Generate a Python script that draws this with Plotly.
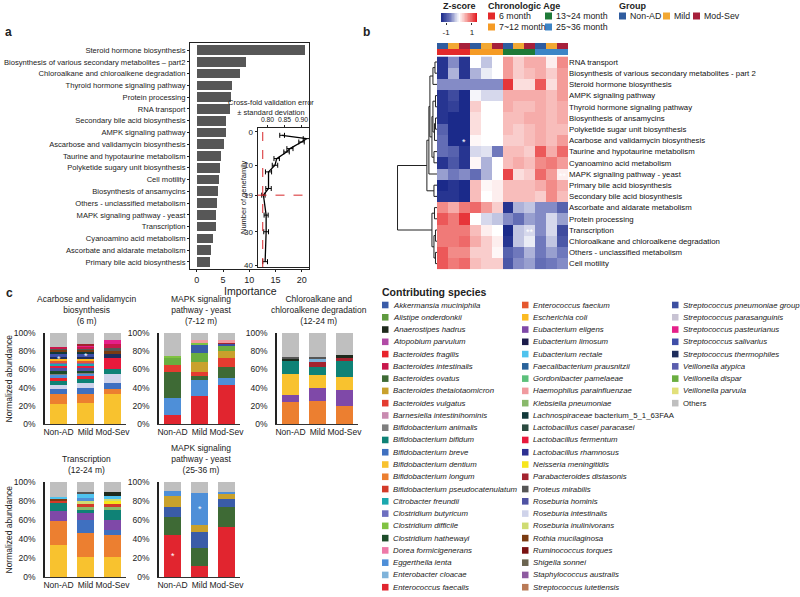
import plotly.graph_objects as go

W, H = 800, 597
FONT = "Liberation Sans, Arial, sans-serif"


def fx(px):
    return px / W


def fy(py):
    return 1 - py / H


# ---------------- Panel a : feature importance ----------------
feat_a = [
    "Steroid hormone biosynthesis",
    "Biosynthesis of various secondary metabolites \u2013 part2",
    "Chloroalkane and chloroalkene degradation",
    "Thyroid hormone signaling pathway",
    "Protein processing",
    "RNA transport",
    "Secondary bile acid biosynthesis",
    "AMPK signaling pathway",
    "Ascarbose and validamycin biosynthesis",
    "Taurine and hypotaurine metabolism",
    "Polyketide sugary unit biosynthesis",
    "Cell motility",
    "Biosynthesis of ansamycins",
    "Others - unclassified metabolism",
    "MAPK signaling pathway - yeast",
    "Transcription",
    "Cyanoamino acid metabolism",
    "Ascorbate and aldarate metabolism",
    "Primary bile acid biosynthesis",
]
importance = [20.6, 9.3, 8.2, 6.8, 6.6, 6.3, 5.5, 5.5, 5.2, 4.6, 4.4, 4.2, 4.0, 3.8, 3.7, 3.6, 3.0, 2.8, 2.5]
importance_ticks = [0, 5, 10, 15, 20]

# inset: cross-fold validation error
cv_n = [1, 2, 3, 5, 6, 8, 10, 12, 17, 19, 25, 30, 39]
cv_err = [0.843, 0.915, 0.900, 0.866, 0.856, 0.827, 0.822, 0.803, 0.803, 0.788, 0.796, 0.796, 0.793]
cv_sd = [0.007, 0.010, 0.008, 0.009, 0.008, 0.008, 0.008, 0.009, 0.008, 0.005, 0.006, 0.007, 0.007]
cv_best_err = 0.786
cv_best_n = 19
cv_xticks = [0.80, 0.85, 0.90]
cv_yticks = [0, 10, 19, 30, 40]

# ---------------- Panel b : heatmap ----------------
hm_rows = [
    "RNA transport",
    "Biosynthesis of various secondary metabolites - part 2",
    "Steroid hormone biosynthesis",
    "AMPK signaling pathway",
    "Thyroid hormone signaling pathway",
    "Biosynthesis of ansamycins",
    "Polyketide sugar unit biosynthesis",
    "Acarbose and validamycin biosynthesis",
    "Taurine and hypotaurine metabolism",
    "Cyanoamino acid metabolism",
    "MAPK signaling pathway - yeast",
    "Primary bile acid biosynthesis",
    "Secondary bile acid biosynthesis",
    "Ascorbate and aldarate metabolism",
    "Protein processing",
    "Transcription",
    "Chloroalkane and chloroalkene degradation",
    "Others - unclassified metabolism",
    "Cell motility",
]
hm_z = [
    [-1.3, -0.6, -1.3, 0.0, -0.3, 0.0, 0.6, 0.3, 0.5, 0.5, 0.1, 0.7],
    [-1.3, -0.4, -1.3, -0.4, -0.1, 0.0, 0.6, 0.3, 0.4, 0.5, 0.3, 0.6],
    [-0.6, -0.6, -0.6, -0.6, -0.6, -0.6, 1.2, 0.2, 0.2, 1.0, 0.2, 0.6],
    [-1.3, -1.1, -1.4, -0.05, -0.2, -0.2, 0.5, 0.5, 0.5, 0.5, 0.4, 0.6],
    [-1.3, -1.2, -1.4, 0.3, 0.0, 0.0, 0.5, 0.4, 0.4, 0.5, 0.4, 0.5],
    [-1.3, -1.4, -1.4, 0.2, 0.0, 0.0, 0.4, 0.4, 0.5, 0.5, 0.4, 0.5],
    [-0.9, -1.4, -1.4, 0.2, 0.0, 0.0, 0.4, 0.3, 0.4, 0.5, 0.4, 0.4],
    [-0.8, -1.4, -1.4, 0.05, 0.0, 0.0, 0.3, 0.3, 0.4, 0.5, 0.4, 0.6],
    [-0.8, -0.9, -1.3, -0.2, -0.15, -0.7, 0.4, 0.4, 0.3, 1.0, 0.5, 0.9],
    [-1.3, -1.0, -1.3, 0.05, -0.4, 0.0, 0.4, 0.5, 0.4, 0.7, 0.8, 0.6],
    [-0.5, -0.7, -0.6, -0.8, -0.4, 0.0, 1.1, 0.2, 0.3, 0.9, 0.6, 0.1],
    [-1.4, -1.3, -1.4, 0.4, 0.05, 0.1, 0.4, 0.4, 0.4, 0.5, 0.7, 0.5],
    [-1.3, -1.3, -1.4, 0.4, 0.0, 0.1, 0.4, 0.4, 0.4, 0.3, 0.7, 0.4],
    [0.7, 0.5, 0.8, 0.9, 0.6, 0.3, -1.3, -0.4, -0.3, -0.6, -0.6, -0.9],
    [1.0, 0.8, 1.2, 0.0, -0.2, -0.3, -0.6, -0.8, -0.5, -0.6, -0.2, -0.5],
    [0.8, 0.8, 0.8, 0.4, 0.1, 0.0, -1.4, -0.3, -0.2, -0.6, -0.2, -1.1],
    [0.8, 0.8, 0.9, 0.5, 0.3, 0.1, -1.3, -0.3, -0.1, -0.7, -0.3, -1.0],
    [1.0, 0.7, 0.7, 0.3, 0.3, 0.05, -0.9, -0.7, -0.4, -0.7, -0.5, -0.7],
    [1.0, 0.8, 0.9, 0.4, 0.3, 0.3, -1.0, -0.6, -0.5, -0.8, -0.7, -0.6],
]
hm_stars = [(7, 2, "*"), (10, 5, "*"), (10, 11, "**"), (15, 8, "**")]
z_min, z_max = -1.4, 1.4
z_ticks = [-1, 1]
z_colorscale = [[0, "#1B2A8A"], [0.25, "#6F78BC"], [0.5, "#FFFFFF"], [0.75, "#F28B88"], [1, "#E3131B"]]

group_names = ["Non-AD", "Mild", "Mod-Sev"]
group_colors = ["#2F5C9F", "#F2A833", "#A6203B"]
age_names = ["6 month", "7~12 month", "13~24 month", "25~36 month"]
age_colors = ["#E32A2A", "#F59B25", "#1E7A38", "#3D85C6"]
col_group = [0, 1, 2, 0, 1, 2, 0, 1, 2, 0, 1, 2]
col_age = [0, 0, 0, 1, 1, 1, 2, 2, 2, 3, 3, 3]

# row dendrogram merges: (child a, child b, height); leaves 0..18, new nodes from 19
dendro_merges = [
    (0, 1, 2), (19, 2, 4), (3, 4, 1.5), (5, 6, 1.5), (22, 7, 2.5), (21, 23, 4),
    (8, 9, 3), (24, 25, 5), (20, 26, 7), (27, 10, 8), (11, 12, 3), (28, 29, 10),
    (15, 16, 1.5), (17, 18, 1.5), (31, 32, 3), (13, 14, 2.5), (34, 33, 5), (30, 35, 39),
]

# ---------------- Panel c : stacked bars ----------------
species = [
    "Akkermansia muciniphila", "Alistipe onderdonkii", "Anaerostipes hadrus", "Atopobium parvulum",
    "Bacteroides fragilis", "Bacteroides intestinalis", "Bacteroides ovatus", "Bacteroides thetaiotaomicron",
    "Bacteroides vulgatus", "Barnesiella intestinihominis", "Bifidobacterium animalis", "Bifidobacterium bifidum",
    "Bifidobacterium breve", "Bifidobacterium dentium", "Bifidobacterium longum", "Bifidobacterium pseudocatenulatum",
    "Citrobacter freundii", "Clostridium butyricum", "Clostridium difficile", "Clostridium hathewayi",
    "Dorea formicigenerans", "Eggerthella lenta", "Enterobacter cloacae", "Enterococcus faecalis",
    "Enterococcus faecium", "Escherichia coli", "Eubacterium eligens", "Eubacterium limosum",
    "Eubacterium rectale", "Faecalibacterium prausnitzii", "Gordonibacter pamelaeae", "Haemophilus parainfluenzae",
    "Klebsiella pneumoniae", "Lachnospiraceae bacterium_5_1_63FAA", "Lactobacillus casei paracasei", "Lactobacillus fermentum",
    "Lactobacillus rhamnosus", "Neisseria meningitidis", "Parabacteroides distasonis", "Proteus mirabilis",
    "Roseburia hominis", "Roseburia intestinalis", "Roseburia inulinivorans", "Rothia mucilaginosa",
    "Ruminococcus torques", "Shigella sonnei", "Staphylococcus australis", "Streptococcus lutetiensis",
    "Streptococcus pneumoniae group", "Streptococcus parasanguinis", "Streptococcus pasteurianus", "Streptococcus salivarius",
    "Streptococcus thermophiles", "Veillonella atypica", "Veillonella dispar", "Veillonella parvula",
    "Others",
]
species_colors = [
    "#3A5CA8", "#5F9A3F", "#1E2A1C", "#B14AA6",
    "#E8232C", "#C8174B", "#3E6A35", "#C9A12C",
    "#E43C30", "#C98BB0", "#7F7F7F", "#0F8276",
    "#3F70C0", "#F8C22F", "#EC7F30", "#D33B2A",
    "#1BA8AE", "#6D6FC0", "#80C242", "#1D4D2A",
    "#EE79A8", "#4E8FD8", "#7FB3DA", "#E1252F",
    "#E5582E", "#FBBB22", "#7F49A8", "#1B1B4A",
    "#4FC3EE", "#29629A", "#5CC07B", "#F09A9F",
    "#89B96B", "#12393A", "#2B4A40", "#E8193C",
    "#2E3192", "#F7E61C", "#A3232F", "#565656",
    "#4F52A3", "#CFD3EA", "#CFDC73", "#7A3B12",
    "#7A1111", "#6B6450", "#8E5BA0", "#B97A56",
    "#3C4FA1", "#C8C3D3", "#E5208A", "#3F4EA8",
    "#1E2D5C", "#5B5EAE", "#6AAE40", "#E2E07A",
    "#BFBFBF",
]
groups = ["Non-AD", "Mild", "Mod-Sev"]

c1_title = "Acarbose and validamycin<br>biosynthesis<br>(6 m)"
c1_species = [
    "Bifidobacterium dentium", "Bifidobacterium longum", "Bifidobacterium breve", "Roseburia intestinalis",
    "Bifidobacterium bifidum", "Bacteroides fragilis", "Eggerthella lenta", "Bifidobacterium animalis",
    "Clostridium hathewayi", "Roseburia hominis", "Lactobacillus fermentum", "Citrobacter freundii",
    "Staphylococcus australis", "Enterococcus faecium", "Escherichia coli", "Streptococcus thermophiles",
    "Streptococcus salivarius", "Lachnospiraceae bacterium_5_1_63FAA", "Rothia mucilaginosa", "Proteus mirabilis",
    "Bacteroides intestinalis", "Streptococcus pasteurianus", "Parabacteroides distasonis", "Others",
]
c1_values = [
    [22, 23, 33], [11, 10, 6], [5, 7, 6], [5, 5, 10], [4, 5, 5], [4, 3, 0], [3, 2, 0], [2, 2, 0],
    [2, 2, 0], [3, 2, 0], [3, 3, 12], [2, 2, 0], [2, 2, 0], [2, 2, 0], [2, 2, 0], [2, 2, 5],
    [3, 4, 0], [2, 2, 0], [3, 2, 3], [1, 1, 3], [2, 2, 5], [0, 1, 4], [0, 2, 0], [15, 12, 8],
]

c2_title = "MAPK signaling<br>pathway - yeast<br>(7-12 m)"
c2_species = [
    "Enterococcus faecalis", "Eggerthella lenta", "Bacteroides ovatus", "Bacteroides vulgatus",
    "Bacteroides thetaiotaomicron", "Veillonella dispar", "Akkermansia muciniphila", "Clostridium difficile",
    "Streptococcus pneumoniae group", "Parabacteroides distasonis", "Haemophilus parainfluenzae", "Others",
]
c2_values = [
    [10, 31, 43], [19, 17, 8], [28, 5, 12], [8, 4, 9], [0, 11, 8], [8, 10, 6],
    [0, 9, 0], [2, 3, 0], [0, 0, 2], [0, 0, 2], [0, 2, 2], [25, 8, 8],
]

c3_title = "Chloroalkane and<br>chloroalkene degradation<br>(12-24 m)"
c3_species = [
    "Bifidobacterium longum", "Eubacterium eligens", "Bifidobacterium dentium", "Bifidobacterium bifidum",
    "Parabacteroides distasonis", "Enterobacter cloacae", "Anaerostipes hadrus", "Proteus mirabilis", "Others",
]
c3_values = [
    [24, 25, 20], [8, 15, 17.5], [22.5, 14, 14], [14.5, 9, 17.5],
    [0, 5, 3.5], [0, 4, 0], [3, 0, 3.5], [2, 2, 0], [26, 26, 24],
]

c4_title = "Transcription<br>(12-24 m)"
c4_species = [
    "Bifidobacterium dentium", "Bifidobacterium longum", "Bifidobacterium breve", "Eubacterium eligens",
    "Bifidobacterium bifidum", "Klebsiella pneumoniae", "Bifidobacterium pseudocatenulatum", "Rothia mucilaginosa",
    "Neisseria meningitidis", "Roseburia inulinivorans", "Eggerthella lenta", "Eubacterium rectale",
    "Proteus mirabilis", "Anaerostipes hadrus", "Others",
]
c4_values = [
    [33.5, 21, 21], [25, 25.5, 23], [0, 14, 6], [10.5, 7, 10.5], [9, 3.5, 10.5], [0, 3, 3],
    [3, 2.5, 3], [2, 0, 0], [0, 0, 3], [0, 3.5, 2.5], [0, 3.5, 0], [1, 3.5, 3],
    [0, 2.5, 0], [0, 0, 3.5], [16, 10.5, 11],
]

c5_title = "MAPK signaling<br>pathway - yeast<br>(25-36 m)"
c5_species = [
    "Enterococcus faecalis", "Bacteroides ovatus", "Akkermansia muciniphila",
    "Bacteroides thetaiotaomicron", "Eggerthella lenta", "Others",
]
c5_values = [
    [44.5, 12, 53], [19, 18.5, 21], [10.5, 16.5, 8], [11, 7.5, 5], [5.5, 34, 3], [9.5, 11.5, 10],
]

c_stars = [(0, "Non-AD", 74), (0, "Mild", 77), (4, "Non-AD", 24), (4, "Mild", 74)]
pct_ticks = [0, 20, 40, 60, 80, 100]

# ================= build figure =================
fig = go.Figure()
color_of = dict(zip(species, species_colors))

# panel a bars
fig.add_trace(go.Bar(
    x=importance, y=list(range(len(feat_a))), orientation="h",
    marker=dict(color="#575757", line=dict(width=0)), width=0.82,
    xaxis="x", yaxis="y", showlegend=False, hoverinfo="skip"))

# inset
fig.add_trace(go.Scatter(
    x=cv_err, y=cv_n, mode="lines",
    line=dict(color="black", width=1.3),
    error_x=dict(type="data", array=cv_sd, color="black", thickness=1, width=2.5),
    xaxis="x2", yaxis="y2", showlegend=False, hoverinfo="skip"))

# heatmap
fig.add_trace(go.Heatmap(
    z=hm_z, x=list(range(12)), y=list(range(len(hm_rows))),
    colorscale=z_colorscale, zmin=z_min, zmax=z_max, showscale=False,
    xaxis="x3", yaxis="y3", hoverinfo="skip"))

# colour key for the heatmap (gradient strip on its own small axis)
n_key = 60
key_vals = [z_min + (z_max - z_min) * i / (n_key - 1) for i in range(n_key)]
fig.add_trace(go.Heatmap(
    z=[key_vals], x=key_vals, y=[0], colorscale=z_colorscale, zmin=z_min, zmax=z_max,
    showscale=False, xaxis="x11", yaxis="y11", hoverinfo="skip"))

# annotation bars (group / age)
n_gc = len(group_colors)
ann_colors = group_colors + age_colors
disc = []
for i, c in enumerate(ann_colors):
    disc.append([i / len(ann_colors), c])
    disc.append([(i + 1) / len(ann_colors), c])
fig.add_trace(go.Heatmap(
    z=[col_group, [n_gc + a for a in col_age]], x=list(range(12)), y=[0, 1],
    colorscale=disc, zmin=-0.5, zmax=len(ann_colors) - 0.5, showscale=False,
    xaxis="x4", yaxis="y4", hoverinfo="skip"))

# dendrogram
node_y = {i: float(i) for i in range(len(hm_rows))}
node_h = {i: 0.0 for i in range(len(hm_rows))}
dx, dy = [], []
nid = len(hm_rows)
for a, b, h in dendro_merges:
    dx += [node_h[a], h, h, node_h[b], None]
    dy += [node_y[a], node_y[a], node_y[b], node_y[b], None]
    node_y[nid] = (node_y[a] + node_y[b]) / 2
    node_h[nid] = h
    nid += 1
fig.add_trace(go.Scatter(x=dx, y=dy, mode="lines", line=dict(color="#222", width=1),
                         xaxis="x5", yaxis="y5", showlegend=False, hoverinfo="skip"))

# panel c
charts = [
    (c1_title, c1_species, c1_values),
    (c2_title, c2_species, c2_values),
    (c3_title, c3_species, c3_values),
    (c4_title, c4_species, c4_values),
    (c5_title, c5_species, c5_values),
]
for k, (title, sp, vals) in enumerate(charts):
    ax = str(6 + k)
    for s, v in zip(sp, vals):
        fig.add_trace(go.Bar(
            x=groups, y=v, marker=dict(color=color_of[s], line=dict(width=0)), width=0.63,
            xaxis="x" + ax, yaxis="y" + ax, showlegend=False, hoverinfo="skip"))

# ================= layout =================
axis_common = dict(showgrid=False, zeroline=False, automargin=False)
lay = dict(
    width=W, height=H, margin=dict(l=0, r=0, t=0, b=0, pad=0, autoexpand=False), autosize=False,
    paper_bgcolor="white", plot_bgcolor="rgba(0,0,0,0)",
    font=dict(family=FONT, size=8, color="#222"),
    barmode="stack", showlegend=False,
)

# panel a axes
lay["xaxis"] = dict(axis_common, domain=[fx(190), fx(309)], range=[-1.3, 21.4],
                    tickvals=importance_ticks, ticks="outside", ticklen=2, tickcolor="#222",
                    showline=True, mirror=True, linecolor="#222", linewidth=1, tickangle=0,
                    tickfont=dict(size=9), anchor="y")
lay["yaxis"] = dict(axis_common, domain=[fy(269), fy(43)], range=[18.6, -0.6],
                    tickvals=list(range(len(feat_a))), ticktext=feat_a,
                    ticks="outside", ticklen=2, tickcolor="#222",
                    showline=True, mirror=True, linecolor="#222", linewidth=1,
                    tickfont=dict(size=7.6), anchor="x")
# inset axes
lay["xaxis2"] = dict(axis_common, domain=[fx(257.5), fx(309)], range=[0.7706, 0.922],
                     side="top", tickvals=cv_xticks, ticktext=["%.2f" % v for v in cv_xticks],
                     ticks="outside", ticklen=2, tickcolor="#222", tickangle=0,
                     showline=True, mirror=True, linecolor="#222", linewidth=1,
                     tickfont=dict(size=6.8), anchor="y2")
lay["yaxis2"] = dict(axis_common, domain=[fy(267), fy(128)], range=[40.6, -1.2],
                     tickvals=cv_yticks, ticks="outside", ticklen=2, tickcolor="#222",
                     showline=True, mirror=True, linecolor="#222", linewidth=1,
                     tickfont=dict(size=8), anchor="x2")
# heatmap axes
hm_top, hm_bot = 56.4, 269.2
lay["xaxis3"] = dict(axis_common, domain=[fx(437), fx(568)], range=[-0.5, 11.5],
                     showticklabels=False, ticks="", anchor="y3")
lay["yaxis3"] = dict(axis_common, domain=[fy(hm_bot), fy(hm_top)], range=[18.5, -0.5],
                     side="right", tickvals=list(range(len(hm_rows))), ticktext=hm_rows,
                     ticks="", tickfont=dict(size=7.8, color="#111"), anchor="x3")
lay["xaxis4"] = dict(axis_common, domain=[fx(437), fx(568)], range=[-0.5, 11.5],
                     showticklabels=False, ticks="", anchor="y4")
lay["yaxis4"] = dict(axis_common, domain=[fy(55), fy(43)], range=[1.5, -0.5],
                     showticklabels=False, ticks="", anchor="x4")
lay["xaxis5"] = dict(axis_common, domain=[fx(396), fx(437)], range=[40.5, 0],
                     showticklabels=False, ticks="", anchor="y5")
lay["yaxis5"] = dict(axis_common, domain=[fy(hm_bot), fy(hm_top)], range=[18.5, -0.5],
                     showticklabels=False, ticks="", anchor="x5")
# colour key axes
lay["xaxis11"] = dict(axis_common, domain=[fx(441), fx(477)], range=[z_min, z_max],
                      tickvals=z_ticks, ticktext=["-1", "1"], ticks="outside", ticklen=2,
                      tickcolor="#333", tickangle=0, tickfont=dict(size=8), anchor="y11")
lay["yaxis11"] = dict(axis_common, domain=[fy(22), fy(13)], range=[-0.5, 0.5],
                      showticklabels=False, ticks="", anchor="x11")

# panel c axes
c_xdom = [(45, 126), (159, 240), (277, 358), (45, 126), (159, 240)]
c_ydom = [(333, 424), (333, 424), (333, 424), (482, 577), (482, 577)]
for k in range(5):
    ax = str(6 + k)
    x0, x1 = c_xdom[k]
    yt, yb = c_ydom[k]
    lay["xaxis" + ax] = dict(axis_common, domain=[fx(x0), fx(x1)], range=[-0.5, 2.5],
                             type="category", ticks="", showline=True, linecolor="#333",
                             linewidth=1, tickangle=0, tickfont=dict(size=8.5), anchor="y" + ax)
    lay["yaxis" + ax] = dict(axis_common, domain=[fy(yb), fy(yt)], range=[0, 100],
                             tickvals=pct_ticks, ticktext=["%d%%" % v for v in pct_ticks],
                             ticks="outside", ticklen=6,
                             tickcolor="rgba(0,0,0,0)", showline=True, linecolor="#222",
                             linewidth=1.6, tickfont=dict(size=8.5), anchor="x" + ax)

annotations = []
shapes = []


def txt(x, y, text, size=8, bold=False, xanchor="left", yanchor="middle", color="#222", angle=0, **kw):
    if bold:
        text = "<b>" + text + "</b>"
    d = dict(x=fx(x), y=fy(y), xref="paper", yref="paper", text=text, showarrow=False,
             xanchor=xanchor, yanchor=yanchor, textangle=angle,
             font=dict(size=size, color=color, family=FONT))
    d.update(kw)
    annotations.append(d)


# panel letters
txt(3, 32, "a", size=12, bold=True)
txt(361, 32, "b", size=12, bold=True)
txt(4, 293, "c", size=12, bold=True)

# panel a extras
txt(250, 291, "Importance", size=10.5, xanchor="center")
txt(271, 107.5, "Cross-fold validation error<br>\u00b1 standard deviation", size=7.5,
    xanchor="center")
txt(243, 197, "Number of genefamily", size=7.5, xanchor="center", angle=-90)
shapes.append(dict(type="line", xref="x2", yref="y2 domain", x0=cv_best_err, x1=cv_best_err,
                   y0=0, y1=1, line=dict(color="#D7262A", width=1, dash="dash")))
shapes.append(dict(type="line", xref="x2 domain", yref="y2", x0=0, x1=1,
                   y0=cv_best_n, y1=cv_best_n, line=dict(color="#D7262A", width=1, dash="dash")))

# panel b legends
txt(441, 5.5, "Z-score", size=9, bold=True)
txt(486, 5.5, "Chronologic Age", size=9, bold=True)
txt(617, 5.5, "Group", size=9, bold=True)
for i, (name, col) in enumerate(zip(age_names, age_colors)):
    x = 488 + (i // 2) * 57
    y = 16 + (i % 2) * 11
    shapes.append(dict(type="rect", xref="paper", yref="paper", x0=fx(x), x1=fx(x + 7),
                       y0=fy(y + 3.5), y1=fy(y - 3.5), fillcolor=col, line=dict(width=0)))
    txt(x + 9, y, name, size=8.8)
group_x = [619, 663, 693]
for name, col, x in zip(group_names, group_colors, group_x):
    shapes.append(dict(type="rect", xref="paper", yref="paper", x0=fx(x), x1=fx(x + 7),
                       y0=fy(16 + 3.5), y1=fy(16 - 3.5), fillcolor=col, line=dict(width=0)))
    txt(x + 8.5, 16, name, size=8.8)

for r, c, s in hm_stars:
    annotations.append(dict(x=c, y=r, xref="x3", yref="y3", text=s, showarrow=False,
                            font=dict(size=9, color="white", family=FONT), yshift=-2))

# panel c titles and labels
for k, (title, sp, vals) in enumerate(charts):
    x0, x1 = c_xdom[k]
    yt, yb = c_ydom[k]
    txt((x0 + x1) / 2 + 1, yt - 5, title, size=8.5, xanchor="center", yanchor="bottom")
for yt, yb in [(333, 424), (482, 577)]:
    txt(8, (yt + yb) / 2, "Normalized abundance", size=8.5, xanchor="center", angle=-90)
for k, g, v in c_stars:
    annotations.append(dict(x=g, y=v, xref="x" + str(6 + k), yref="y" + str(6 + k), text="*",
                            showarrow=False, font=dict(size=9, color="white", family=FONT),
                            yshift=-2))

# species legend
txt(380, 292, "Contributing species", size=10.5, bold=True)
leg_cols = [382, 522, 672]
per_col = 24
for i, (name, col) in enumerate(zip(species, species_colors)):
    cx = leg_cols[i // per_col]
    cy = 305 + (i % per_col) * 12.27
    shapes.append(dict(type="rect", xref="paper", yref="paper", x0=fx(cx), x1=fx(cx + 6.5),
                       y0=fy(cy + 3.3), y1=fy(cy - 3.3), fillcolor=col, line=dict(width=0)))
    if name == "Others":
        label = name
    elif name.startswith("Lachnospiraceae"):
        parts = name.split(" ")
        label = "<i>" + parts[0] + "</i> " + parts[1]
    else:
        label = "<i>" + name + "</i>"
    txt(cx + 8.5, cy, label, size=7.8)

lay["annotations"] = annotations
lay["shapes"] = shapes
fig.update_layout(**lay)
fig.write_html(
    "out.html",
    config={"displayModeBar": False},
    post_script="document.body.style.margin='0px';document.body.style.overflow='hidden';",
)
